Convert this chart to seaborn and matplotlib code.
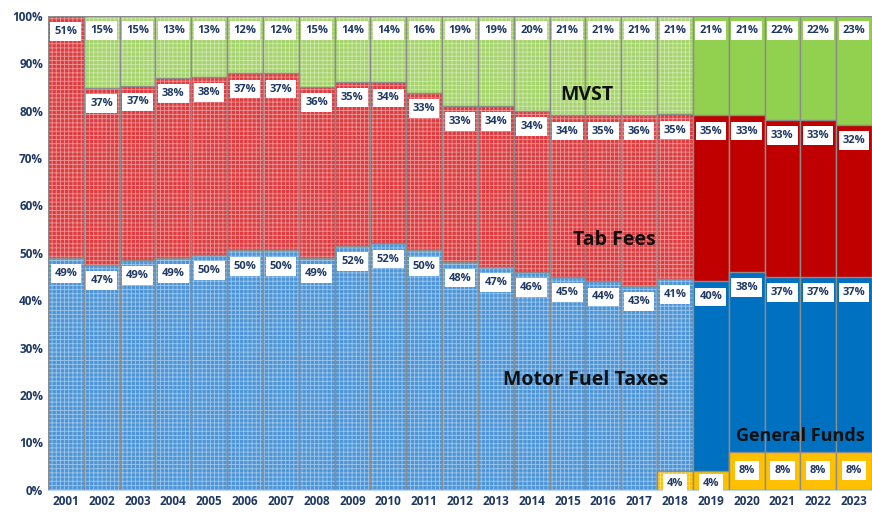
import matplotlib
matplotlib.use("Agg")
import matplotlib.pyplot as plt
import matplotlib.colors as mcolors
import numpy as np
import seaborn as sns

years = [str(y) for y in range(2001, 2024)]
general_funds = [0] * 17 + [4, 4, 8, 8, 8, 8]
motor_fuel = [49, 47, 49, 49, 50, 50, 50, 49, 52, 52, 50, 48, 47, 46, 45, 44, 43, 41, 40, 38, 37, 37, 37]
tab_fees = [51, 37, 37, 38, 38, 37, 37, 36, 35, 34, 33, 33, 34, 34, 34, 35, 36, 35, 35, 33, 33, 33, 32]
mvst = [0, 15, 15, 13, 13, 12, 12, 15, 14, 14, 16, 19, 19, 20, 21, 21, 21, 21, 21, 21, 22, 22, 23]

sns.set_style("white")
plt.rcParams["font.family"] = ["Open Sans", "DejaVu Sans"]
plt.rcParams["hatch.linewidth"] = 0.6

navy = "#1F3864"
n_pattern = 18  # 2001-2018 drawn with the dotted pattern

# colours: (patterned fill, hatch tint, solid fill)
layer_style = {
    "mvst": ("#A6D46C", "#D2EBB2", "#92D050"),
    "tab": ("#DD3C40", "#F0A0A0", "#C00000"),
    "fuel": ("#4F95D6", "#A4CCF0", "#0070C0"),
    "gf": ("#FFC000", "#FFE080", "#FFC000"),
}

gf = np.array(general_funds, float)
mf = np.array(motor_fuel, float)
tf = np.array(tab_fees, float)
mv = np.array(mvst, float)
total = gf + mf + tf + mv
c_gf = gf / total * 100
c_mf = (gf + mf) / total * 100
c_tf = (gf + mf + tf) / total * 100
c_mv = np.full(len(years), 100.0)

fig, ax = plt.subplots(figsize=(8.72, 5.14), dpi=100)
fig.subplots_adjust(left=0.055, right=1.0, bottom=0.047, top=0.969)

layers = [("mvst", c_mv), ("tab", c_tf), ("fuel", c_mf), ("gf", c_gf)]
for key, cum in layers:
    pat, tint, solid = layer_style[key]
    cols = [pat] * n_pattern + [solid] * (len(years) - n_pattern)
    start = len(ax.patches)
    sns.barplot(x=years, y=cum, hue=years, palette=cols, legend=False, saturation=1,
                width=1.0, edgecolor="#8C8C8C", linewidth=1.0, ax=ax)
    for i, p in enumerate(ax.patches[start:]):
        if i < n_pattern:
            p.set_hatch("++++")
            p._hatch_color = mcolors.to_rgba(tint, 0.9)
            p.stale = True

box = dict(boxstyle="square,pad=0.35", fc="white", ec="none")
lab_kw = dict(ha="center", va="center", fontsize=8, fontweight="bold", color=navy, bbox=box)
for i in range(len(years)):
    if mvst[i] > 0:
        ax.text(i, c_mv[i] - 3.0, f"{mvst[i]}%", **lab_kw)
    ax.text(i, c_tf[i] - 3.3, f"{tab_fees[i]}%", **lab_kw)
    ax.text(i, c_mf[i] - 3.3, f"{motor_fuel[i]}%", **lab_kw)
    if general_funds[i] > 0:
        y = 1.4 if general_funds[i] < 6 else c_gf[i] / 2
        ax.text(i, y, f"{general_funds[i]}%", **lab_kw)

name_kw = dict(ha="center", va="center", fontsize=14, fontweight="bold", color="#111111")
ax.text(14.55, 83.3, "MVST", **name_kw)
ax.text(15.3, 52.7, "Tab Fees", **name_kw)
ax.text(14.5, 23.2, "Motor Fuel Taxes", **name_kw)
ax.text(20.5, 11.4, "General Funds", **{**name_kw, "fontsize": 13})

ax.set_xlim(-0.5, len(years) - 0.5)
ax.set_ylim(0, 100)
ax.set_yticks(range(0, 101, 10))
ax.set_yticklabels([f"{v}%" for v in range(0, 101, 10)])
ax.tick_params(axis="both", length=0, labelsize=8.5, labelcolor=navy)
for t in ax.get_xticklabels() + ax.get_yticklabels():
    t.set_fontweight("bold")
ax.set_xlabel("")
ax.set_ylabel("")
for s in ["top", "right", "left"]:
    ax.spines[s].set_visible(False)
ax.spines["bottom"].set_color("#BDD7EE")

plt.savefig("out.png", dpi=100)
